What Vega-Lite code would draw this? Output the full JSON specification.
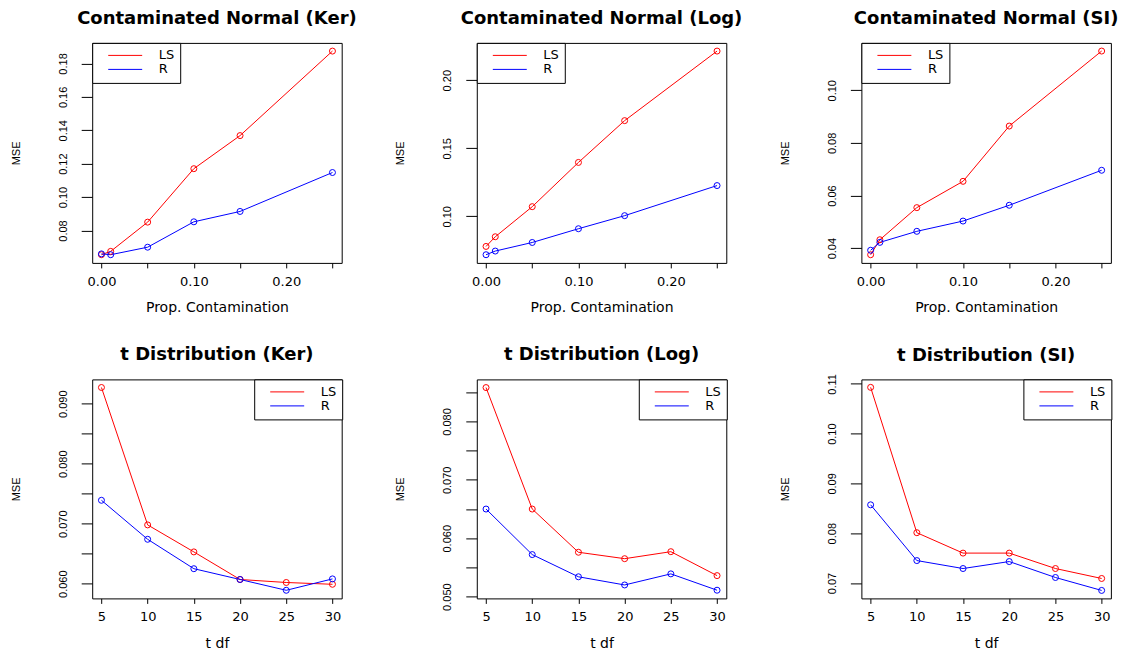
{
  "$schema": "https://vega.github.io/schema/vega-lite/v6.json",
  "autosize": {"type": "pad"},
  "padding": {"left": 9.2, "top": 8.9, "right": 0, "bottom": 0},
  "background": "white",
  "data": {"values": [
    {"p":"cnk","x":0,"m":"LS","v":0.0655},{"p":"cnk","x":0.01,"m":"LS","v":0.0675},{"p":"cnk","x":0.05,"m":"LS","v":0.0850},{"p":"cnk","x":0.10,"m":"LS","v":0.1170},{"p":"cnk","x":0.15,"m":"LS","v":0.1368},{"p":"cnk","x":0.25,"m":"LS","v":0.1874},
    {"p":"cnk","x":0,"m":"R","v":0.0660},{"p":"cnk","x":0.01,"m":"R","v":0.0655},{"p":"cnk","x":0.05,"m":"R","v":0.0700},{"p":"cnk","x":0.10,"m":"R","v":0.0852},{"p":"cnk","x":0.15,"m":"R","v":0.0914},{"p":"cnk","x":0.25,"m":"R","v":0.1147},
    {"p":"cnl","x":0,"m":"LS","v":0.0779},{"p":"cnl","x":0.01,"m":"LS","v":0.0850},{"p":"cnl","x":0.05,"m":"LS","v":0.1071},{"p":"cnl","x":0.10,"m":"LS","v":0.1396},{"p":"cnl","x":0.15,"m":"LS","v":0.1703},{"p":"cnl","x":0.25,"m":"LS","v":0.2214},
    {"p":"cnl","x":0,"m":"R","v":0.0718},{"p":"cnl","x":0.01,"m":"R","v":0.0745},{"p":"cnl","x":0.05,"m":"R","v":0.0808},{"p":"cnl","x":0.10,"m":"R","v":0.0909},{"p":"cnl","x":0.15,"m":"R","v":0.1005},{"p":"cnl","x":0.25,"m":"R","v":0.1226},
    {"p":"cns","x":0,"m":"LS","v":0.0375},{"p":"cns","x":0.01,"m":"LS","v":0.0432},{"p":"cns","x":0.05,"m":"LS","v":0.0554},{"p":"cns","x":0.10,"m":"LS","v":0.0654},{"p":"cns","x":0.15,"m":"LS","v":0.0864},{"p":"cns","x":0.25,"m":"LS","v":0.1149},
    {"p":"cns","x":0,"m":"R","v":0.0392},{"p":"cns","x":0.01,"m":"R","v":0.0422},{"p":"cns","x":0.05,"m":"R","v":0.0464},{"p":"cns","x":0.10,"m":"R","v":0.0503},{"p":"cns","x":0.15,"m":"R","v":0.0563},{"p":"cns","x":0.25,"m":"R","v":0.0696},
    {"p":"tk","x":5,"m":"LS","v":0.0927},{"p":"tk","x":10,"m":"LS","v":0.0698},{"p":"tk","x":15,"m":"LS","v":0.0653},{"p":"tk","x":20,"m":"LS","v":0.0607},{"p":"tk","x":25,"m":"LS","v":0.0602},{"p":"tk","x":30,"m":"LS","v":0.0599},
    {"p":"tk","x":5,"m":"R","v":0.0739},{"p":"tk","x":10,"m":"R","v":0.0674},{"p":"tk","x":15,"m":"R","v":0.0625},{"p":"tk","x":20,"m":"R","v":0.0607},{"p":"tk","x":25,"m":"R","v":0.0589},{"p":"tk","x":30,"m":"R","v":0.0608},
    {"p":"tl","x":5,"m":"LS","v":0.0858},{"p":"tl","x":10,"m":"LS","v":0.0650},{"p":"tl","x":15,"m":"LS","v":0.0576},{"p":"tl","x":20,"m":"LS","v":0.0565},{"p":"tl","x":25,"m":"LS","v":0.0577},{"p":"tl","x":30,"m":"LS","v":0.0536},
    {"p":"tl","x":5,"m":"R","v":0.0650},{"p":"tl","x":10,"m":"R","v":0.0572},{"p":"tl","x":15,"m":"R","v":0.0534},{"p":"tl","x":20,"m":"R","v":0.0520},{"p":"tl","x":25,"m":"R","v":0.0539},{"p":"tl","x":30,"m":"R","v":0.0511},
    {"p":"ts","x":5,"m":"LS","v":0.1093},{"p":"ts","x":10,"m":"LS","v":0.0801},{"p":"ts","x":15,"m":"LS","v":0.0760},{"p":"ts","x":20,"m":"LS","v":0.0760},{"p":"ts","x":25,"m":"LS","v":0.0729},{"p":"ts","x":30,"m":"LS","v":0.0709},
    {"p":"ts","x":5,"m":"R","v":0.0857},{"p":"ts","x":10,"m":"R","v":0.0745},{"p":"ts","x":15,"m":"R","v":0.0729},{"p":"ts","x":20,"m":"R","v":0.0743},{"p":"ts","x":25,"m":"R","v":0.0711},{"p":"ts","x":30,"m":"R","v":0.0685}
  ]},
  "columns": 3,
  "spacing": {"row": 116.5, "column": 134.6},
  "bounds": "flush",
  "resolve": {"scale": {"color": "independent", "x": "independent", "y": "independent"}, "legend": {"color": "independent"}},
  "concat": [
    {
      "title": "Contaminated Normal (Ker)",
      "width": 249.5, "height": 220,
      "transform": [{"filter": "datum.p == 'cnk'"}],
      "encoding": {
        "x": {"field": "x", "type": "quantitative", "scale": {"domain": [-0.01, 0.26], "nice": false, "zero": false},
              "axis": {"values": [0, 0.05, 0.1, 0.15, 0.2, 0.25], "format": ".2f", "labelExpr": "round(datum.value*100) % 10 == 0 ? datum.label : ''", "title": "Prop. Contamination"}},
        "y": {"field": "v", "type": "quantitative", "scale": {"domain": [0.0606, 0.1923], "nice": false, "zero": false},
              "axis": {"values": [0.08, 0.10, 0.12, 0.14, 0.16, 0.18], "format": ".2f", "title": "MSE"}},
        "color": {"field": "m", "type": "nominal", "scale": {"domain": ["LS", "R"], "range": ["#FF0000", "#0000FF"]},
                  "legend": {"orient": "top-left", "title": null}}
      },
      "layer": [
        {"mark": {"type": "line", "strokeWidth": 1}},
        {"mark": {"type": "point", "filled": false, "size": 36, "strokeWidth": 1, "opacity": 1}}
      ]
    },
    {
      "title": "Contaminated Normal (Log)",
      "width": 249.5, "height": 220,
      "transform": [{"filter": "datum.p == 'cnl'"}],
      "encoding": {
        "x": {"field": "x", "type": "quantitative", "scale": {"domain": [-0.01, 0.26], "nice": false, "zero": false},
              "axis": {"values": [0, 0.05, 0.1, 0.15, 0.2, 0.25], "format": ".2f", "labelExpr": "round(datum.value*100) % 10 == 0 ? datum.label : ''", "title": "Prop. Contamination"}},
        "y": {"field": "v", "type": "quantitative", "scale": {"domain": [0.0658, 0.2274], "nice": false, "zero": false},
              "axis": {"values": [0.10, 0.15, 0.20], "format": ".2f", "title": "MSE"}},
        "color": {"field": "m", "type": "nominal", "scale": {"domain": ["LS", "R"], "range": ["#FF0000", "#0000FF"]},
                  "legend": {"orient": "top-left", "title": null}}
      },
      "layer": [
        {"mark": {"type": "line", "strokeWidth": 1}},
        {"mark": {"type": "point", "filled": false, "size": 36, "strokeWidth": 1, "opacity": 1}}
      ]
    },
    {
      "title": "Contaminated Normal (SI)",
      "width": 249.5, "height": 220,
      "transform": [{"filter": "datum.p == 'cns'"}],
      "encoding": {
        "x": {"field": "x", "type": "quantitative", "scale": {"domain": [-0.01, 0.26], "nice": false, "zero": false},
              "axis": {"values": [0, 0.05, 0.1, 0.15, 0.2, 0.25], "format": ".2f", "labelExpr": "round(datum.value*100) % 10 == 0 ? datum.label : ''", "title": "Prop. Contamination"}},
        "y": {"field": "v", "type": "quantitative", "scale": {"domain": [0.0344, 0.118], "nice": false, "zero": false},
              "axis": {"values": [0.04, 0.06, 0.08, 0.10], "format": ".2f", "title": "MSE"}},
        "color": {"field": "m", "type": "nominal", "scale": {"domain": ["LS", "R"], "range": ["#FF0000", "#0000FF"]},
                  "legend": {"orient": "top-left", "title": null}}
      },
      "layer": [
        {"mark": {"type": "line", "strokeWidth": 1}},
        {"mark": {"type": "point", "filled": false, "size": 36, "strokeWidth": 1, "opacity": 1}}
      ]
    },
    {
      "title": "t Distribution (Ker)",
      "width": 249.5, "height": 219,
      "transform": [{"filter": "datum.p == 'tk'"}],
      "encoding": {
        "x": {"field": "x", "type": "quantitative", "scale": {"domain": [4, 31], "nice": false, "zero": false},
              "axis": {"values": [5, 10, 15, 20, 25, 30], "title": "t df"}},
        "y": {"field": "v", "type": "quantitative", "scale": {"domain": [0.05755, 0.09405], "nice": false, "zero": false},
              "axis": {"values": [0.060, 0.065, 0.070, 0.075, 0.080, 0.085, 0.090], "format": ".3f", "labelExpr": "round(datum.value*1000) % 10 == 0 ? datum.label : ''", "title": "MSE"}},
        "color": {"field": "m", "type": "nominal", "scale": {"domain": ["LS", "R"], "range": ["#FF0000", "#0000FF"]},
                  "legend": {"orient": "top-right", "title": null}}
      },
      "layer": [
        {"mark": {"type": "line", "strokeWidth": 1}},
        {"mark": {"type": "point", "filled": false, "size": 36, "strokeWidth": 1, "opacity": 1}}
      ]
    },
    {
      "title": "t Distribution (Log)",
      "width": 249.5, "height": 219,
      "transform": [{"filter": "datum.p == 'tl'"}],
      "encoding": {
        "x": {"field": "x", "type": "quantitative", "scale": {"domain": [4, 31], "nice": false, "zero": false},
              "axis": {"values": [5, 10, 15, 20, 25, 30], "title": "t df"}},
        "y": {"field": "v", "type": "quantitative", "scale": {"domain": [0.0497, 0.0872], "nice": false, "zero": false},
              "axis": {"values": [0.050, 0.055, 0.060, 0.065, 0.070, 0.075, 0.080, 0.085], "format": ".3f", "labelExpr": "round(datum.value*1000) % 10 == 0 ? datum.label : ''", "title": "MSE"}},
        "color": {"field": "m", "type": "nominal", "scale": {"domain": ["LS", "R"], "range": ["#FF0000", "#0000FF"]},
                  "legend": {"orient": "top-right", "title": null}}
      },
      "layer": [
        {"mark": {"type": "line", "strokeWidth": 1}},
        {"mark": {"type": "point", "filled": false, "size": 36, "strokeWidth": 1, "opacity": 1}}
      ]
    },
    {
      "title": {"text": "t Distribution (SI)", "offset": 8.5},
      "width": 249.5, "height": 219,
      "transform": [{"filter": "datum.p == 'ts'"}],
      "encoding": {
        "x": {"field": "x", "type": "quantitative", "scale": {"domain": [4, 31], "nice": false, "zero": false},
              "axis": {"values": [5, 10, 15, 20, 25, 30], "title": "t df"}},
        "y": {"field": "v", "type": "quantitative", "scale": {"domain": [0.0669, 0.1109], "nice": false, "zero": false},
              "axis": {"values": [0.07, 0.08, 0.09, 0.10, 0.11], "format": ".2f", "title": "MSE"}},
        "color": {"field": "m", "type": "nominal", "scale": {"domain": ["LS", "R"], "range": ["#FF0000", "#0000FF"]},
                  "legend": {"orient": "top-right", "title": null}}
      },
      "layer": [
        {"mark": {"type": "line", "strokeWidth": 1}},
        {"mark": {"type": "point", "filled": false, "size": 36, "strokeWidth": 1, "opacity": 1}}
      ]
    }
  ],
  "config": {
    "view": {"stroke": "black", "strokeWidth": 1, "fill": null},
    "title": {"font": "DejaVu Sans", "fontSize": 18, "fontWeight": "bold", "color": "black", "anchor": "middle", "frame": "group", "baseline": "bottom", "offset": 14.5},
    "axis": {"domain": false, "grid": false, "tickColor": "black", "tickWidth": 1, "labelColor": "black", "titleColor": "black", "titleFontWeight": "normal", "labelFlush": false, "labelOverlap": false},
    "axisX": {"tickSize": 5, "labelFont": "DejaVu Sans", "labelFontSize": 13, "labelPadding": 7.5, "labelBaseline": "top", "titleFont": "DejaVu Sans", "titleFontSize": 14, "titlePadding": 12.5, "titleBaseline": "top"},
    "axisY": {"tickSize": 11, "labelAngle": 270, "labelAlign": "center", "labelBaseline": "alphabetic", "labelFont": "Liberation Sans", "labelFontSize": 11, "labelPadding": 15, "titleFont": "Liberation Sans", "titleFontSize": 11, "titlePadding": 38, "titleBaseline": "alphabetic"},
    "legend": {"symbolType": "M-2.83,0H2.83", "symbolSize": 144, "symbolStrokeWidth": 1, "rowPadding": 0, "padding": 6, "symbolOffset": 20.5, "labelOffset": 27, "labelFont": "DejaVu Sans", "labelFontSize": 13, "labelColor": "black", "strokeColor": "black", "fillColor": "white", "offset": 0, "cornerRadius": 0, "labelExpr": "datum.label + '\u00a0\u00a0'"}
  }
}
